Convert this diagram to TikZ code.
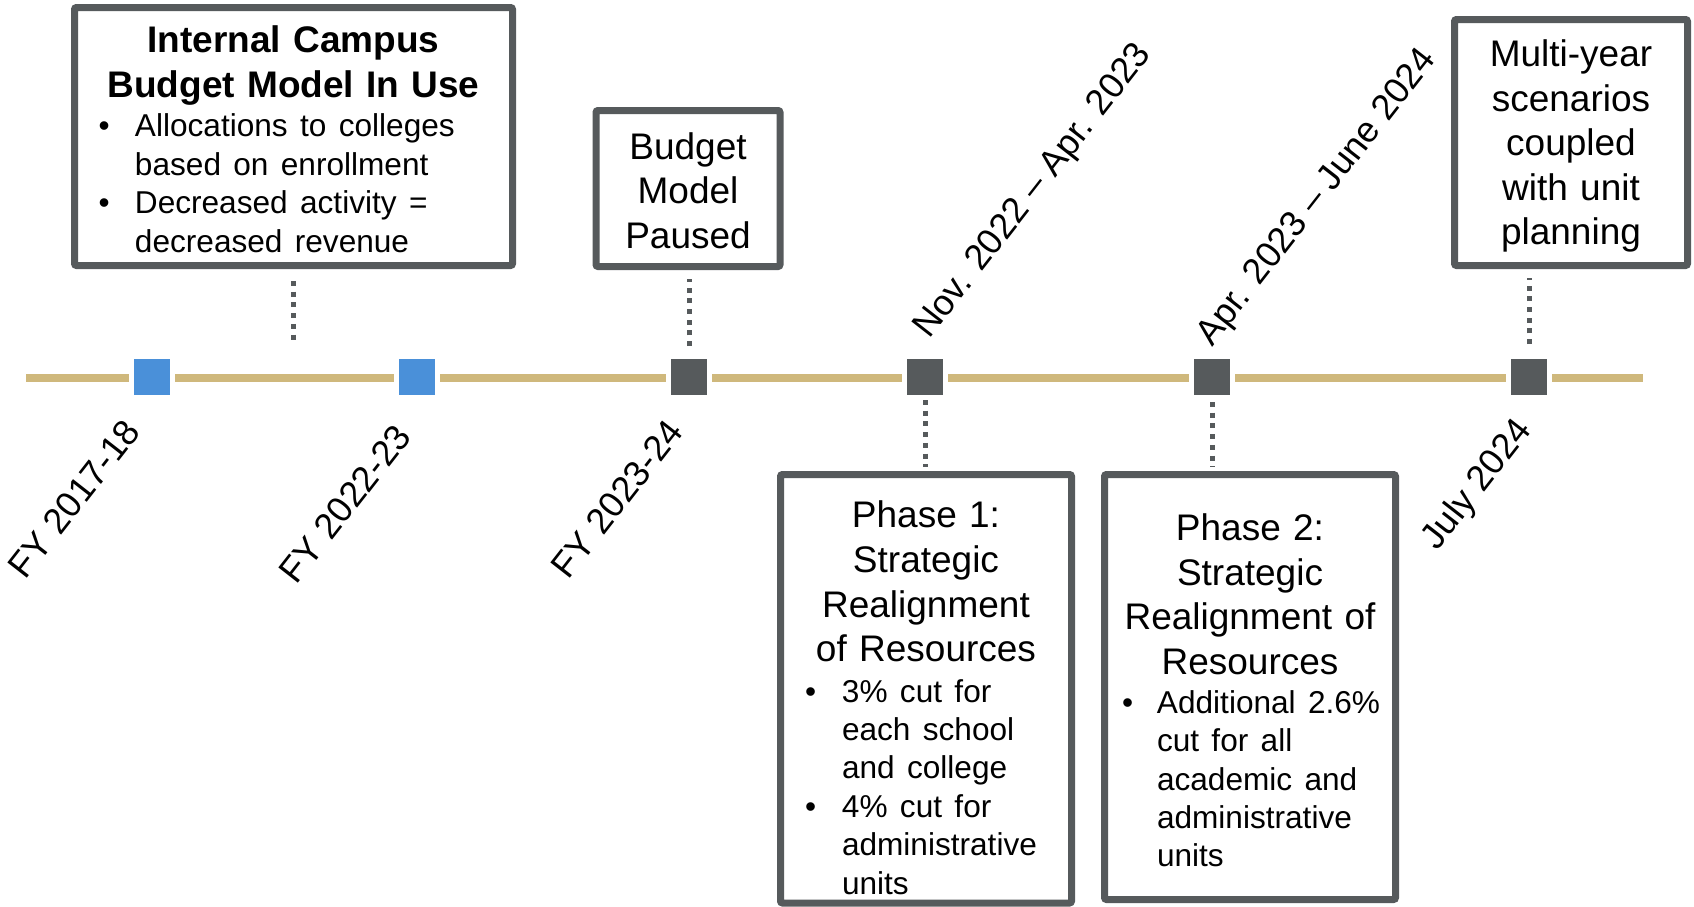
\documentclass[tikz,border=0pt]{standalone}
\usepackage{fontspec}
\setmainfont{Liberation Sans}
\usetikzlibrary{calc}

\definecolor{cugold}{HTML}{CFB87C}
\definecolor{cugray}{HTML}{565A5C}
\definecolor{cublue}{HTML}{4A90D9}

\newcommand{\bigtxt}{\fontsize{18.5}{22.3}\selectfont}
\newcommand{\smalltxt}{\fontsize{15.8}{19.2}\selectfont}
\newcommand{\bul}[3]{\par\noindent\hspace*{#1}\makebox[#2][l]{\textbullet}#3}
\newcommand{\cont}[2]{\par\noindent\hspace*{#1}#2}

\begin{document}
\begin{tikzpicture}[x=0.5pt,y=-0.5pt,
  box/.style={draw=cugray, line width=3.5pt, fill=white, rounded corners=1pt, inner sep=0pt, font=\bigtxt},
  milestone/.style={draw=white, line width=2.5pt, minimum size=20.5pt, inner sep=0pt},
  conn/.style={cugray, line width=2.5pt, dash pattern=on 2.5pt off 2.85pt},
  datelbl/.style={font=\fontsize{18}{21}\selectfont, inner sep=0pt, rotate=52}]
\useasboundingbox (0,0) rectangle (1694,906);

\coordinate (tlstart) at (26,378);
\coordinate (tlend) at (1643,378);
\draw[cugold, line width=4pt] (tlstart) -- (tlend);

\node[milestone, fill=cublue] (m1) at (152,377) {};
\node[milestone, fill=cublue] (m2) at (417,377) {};
\node[milestone, fill=cugray] (m3) at (689,377) {};
\node[milestone, fill=cugray] (m4) at (925,377) {};
\node[milestone, fill=cugray] (m5) at (1212,377) {};
\node[milestone, fill=cugray] (m6) at (1529,377) {};

% boxes above the line
\node[box, text width=200pt, minimum width=219pt, minimum height=129pt] (inuse) at (293.5,136.5)
  {\centering\bfseries\rule{0pt}{16pt}Internal Campus\\ Budget Model In Use\par
   \vspace{0.6pt}\raggedright\mdseries\smalltxt
   \bul{2.5pt}{18.25pt}{Allocations to colleges}
   \cont{20.75pt}{based on enrollment}
   \bul{2.5pt}{18.25pt}{Decreased activity =}
   \cont{20.75pt}{decreased revenue}\par};
\node[box, text width=85pt, align=center, minimum width=92pt, minimum height=78pt] (paused) at (688,188.5)
  {\rule{0pt}{15.5pt}Budget\\ Model\\ Paused};
\node[box, text width=110pt, align=center, minimum width=116.5pt, minimum height=123pt] (multi) at (1571,142.5)
  {\rule{0pt}{17pt}Multi-year\\ scenarios\\ coupled\\ with unit\\ planning};

% boxes below the line
\node[box, text width=135pt, minimum width=145.5pt, minimum height=214.25pt] (phaseone) at (926,688.75)
  {\centering\rule{0pt}{22.3pt}Phase 1:\\ Strategic\\ Realignment\\ of Resources\par
   \vspace{1pt}\raggedright\smalltxt
   \bul{7pt}{18.5pt}{3\% cut for}
   \cont{25.5pt}{each school}
   \cont{25.5pt}{and college}
   \bul{7pt}{18.5pt}{4\% cut for}
   \cont{25.5pt}{administrative}
   \cont{25.5pt}{units}\par};
\node[box, text width=135pt, minimum width=145.5pt, minimum height=212.5pt] (phasetwo) at (1250,687)
  {\centering\rule{0pt}{16.8pt}Phase 2:\\ Strategic\\ Realignment of\\ Resources\par
   \vspace{0.3pt}\raggedright\smalltxt
   \bul{3.5pt}{17.5pt}{Additional 2.6\%}
   \cont{21pt}{cut for all}
   \cont{21pt}{academic and}
   \cont{21pt}{administrative}
   \cont{21pt}{units}\par};

% dotted leaders
\coordinate (inuseend) at (293.5,344);
\draw[conn, shorten <=6pt] (inuse.south) -- (inuseend);
\draw[conn, shorten <=4pt, shorten >=4.5pt] (m3.north) -- (m3.north |- paused.south);
\draw[conn, shorten <=5pt, shorten >=4.5pt] (m6.north) -- (m6.north |- multi.south);
\draw[conn, shorten >=2pt] (m4.south) -- (m4.south |- phaseone.north);
\draw[conn, shorten <=1pt, shorten >=2pt] (m5.south) -- (m5.south |- phasetwo.north);

% dates
\node[datelbl, anchor=base east] (fy17) at (142,432) {FY 2017-18};
\node[datelbl, anchor=base east] (fy22) at (413,437) {FY 2022-23};
\node[datelbl, anchor=base east] (fy23) at (685,432) {FY 2023-24};
\node[datelbl, anchor=base east] (jul24) at (1533,430) {July 2024};
\node[datelbl, anchor=base west] (ph1date) at (929,340) {Nov. 2022 -- Apr. 2023};
\node[datelbl, anchor=base west] (ph2date) at (1212,348) {Apr. 2023 -- June 2024};
\end{tikzpicture}
\end{document}
